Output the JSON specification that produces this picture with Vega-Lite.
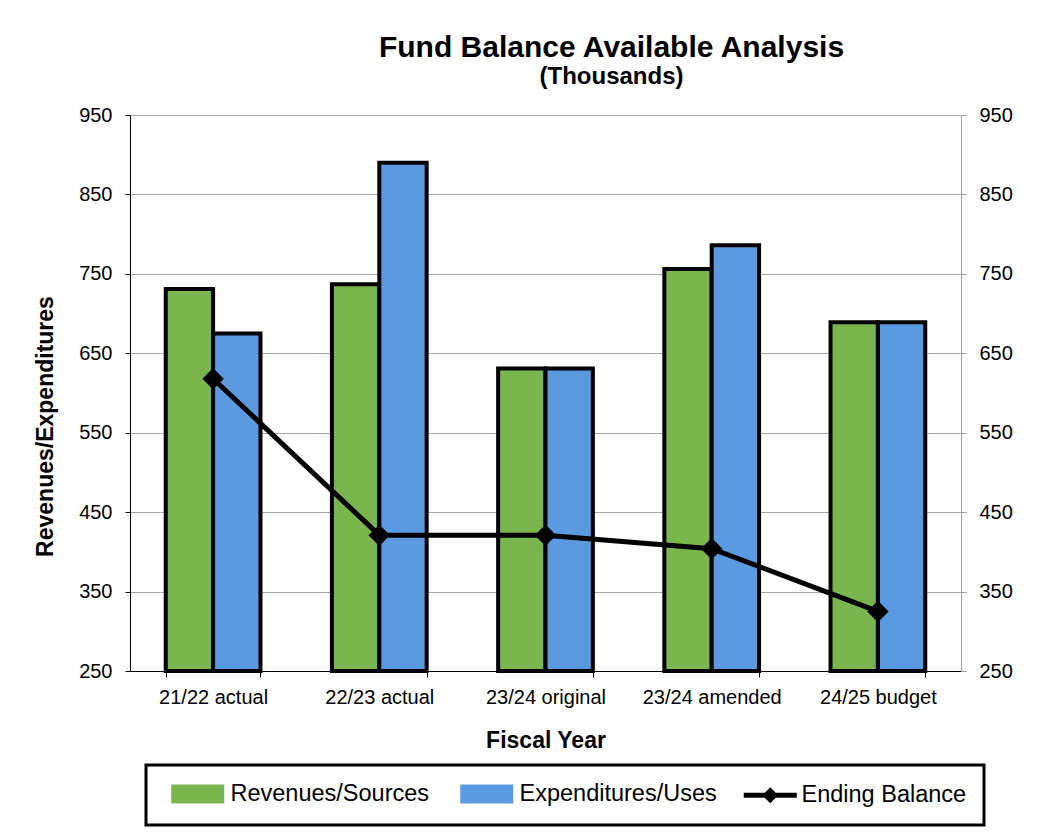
{
  "$schema": "https://vega.github.io/schema/vega-lite/v6.json",
  "width": 831,
  "height": 556,
  "autosize": "none",
  "padding": {"left": 130, "top": 115, "right": 100, "bottom": 165},
  "background": "white",
  "title": {
    "text": "Fund Balance Available Analysis",
    "subtitle": "(Thousands)",
    "anchor": "middle",
    "dx": 66,
    "offset": 16,
    "font": "Liberation Sans",
    "fontSize": 30,
    "fontWeight": "bold",
    "color": "black",
    "subtitleFont": "Liberation Sans",
    "subtitleFontSize": 24,
    "subtitleFontWeight": "bold",
    "subtitleColor": "black",
    "subtitlePadding": 2
  },
  "data": {
    "values": [
      {"year": "21/22 actual", "series": "Revenues/Sources", "value": 731},
      {"year": "21/22 actual", "series": "Expenditures/Uses", "value": 675},
      {"year": "21/22 actual", "series": "Ending Balance", "value": 618},
      {"year": "22/23 actual", "series": "Revenues/Sources", "value": 737},
      {"year": "22/23 actual", "series": "Expenditures/Uses", "value": 890},
      {"year": "22/23 actual", "series": "Ending Balance", "value": 421},
      {"year": "23/24 original", "series": "Revenues/Sources", "value": 631},
      {"year": "23/24 original", "series": "Expenditures/Uses", "value": 631},
      {"year": "23/24 original", "series": "Ending Balance", "value": 421},
      {"year": "23/24 amended", "series": "Revenues/Sources", "value": 756},
      {"year": "23/24 amended", "series": "Expenditures/Uses", "value": 786},
      {"year": "23/24 amended", "series": "Ending Balance", "value": 404},
      {"year": "24/25 budget", "series": "Revenues/Sources", "value": 689},
      {"year": "24/25 budget", "series": "Expenditures/Uses", "value": 689},
      {"year": "24/25 budget", "series": "Ending Balance", "value": 325}
    ]
  },
  "encoding": {
    "x": {
      "field": "year",
      "type": "nominal",
      "sort": null,
      "scale": {"paddingInner": 0.43, "paddingOuter": 0.215},
      "axis": {
        "title": "Fiscal Year",
        "labelAngle": 0,
        "labelFontSize": 20,
        "labelPadding": 10,
        "tickBand": "extent",
        "tickSize": 6,
        "titlePadding": 22,
        "titleFontSize": 23
      }
    }
  },
  "layer": [
    {
      "transform": [{"filter": "datum.series !== 'Ending Balance'"}],
      "mark": {"type": "bar", "stroke": "black", "strokeWidth": 4},
      "encoding": {
        "xOffset": {
          "field": "series",
          "type": "nominal",
          "sort": ["Revenues/Sources", "Expenditures/Uses"],
          "scale": {"paddingInner": 0, "paddingOuter": 0}
        },
        "y": {
          "field": "value",
          "type": "quantitative",
          "scale": {"domain": [250, 950], "nice": false, "zero": false},
          "axis": {
            "title": "Revenues/Expenditures",
            "values": [250, 350, 450, 550, 650, 750, 850, 950],
            "labelFontSize": 20,
            "labelPadding": 13,
            "tickSize": 5,
            "titleFontSize": 23,
            "titlePadding": 21,
            "titleY": 311,
            "grid": true
          }
        },
        "y2": {"datum": 250},
        "color": {
          "field": "series",
          "type": "nominal",
          "scale": {
            "domain": ["Revenues/Sources", "Expenditures/Uses", "Ending Balance"],
            "range": ["#7ab54e", "#5a9ae0", "#000000"]
          },
          "legend": {
            "title": " ",
            "titleOrient": "left",
            "titleFontSize": 8,
            "titlePadding": 8,
            "orient": "none",
            "direction": "horizontal",
            "legendX": 16,
            "legendY": 650,
            "padding": 17,
            "strokeColor": "black",
            "fillColor": "white",
            "symbolSize": 400,
            "symbolType": {"expr": "datum.value === 'Ending Balance' ? 'M-1,-0.25H4.3V0.25H-1Z M1.65,-0.8L2.45,0L1.65,0.8L0.85,0Z' : 'M-1,-0.8H4V0.8H-1Z'"},
            "symbolStrokeColor": "#1a1a1a",
            "symbolStrokeWidth": {"expr": "datum.value === 'Ending Balance' ? 0 : 3"},
            "symbolOpacity": 1,
            "labelFontSize": 23.5,
            "labelLimit": 400,
            "labelOffset": 36,
            "columnPadding": 25
          }
        }
      }
    },
    {
      "transform": [{"filter": "datum.series === 'Ending Balance'"}],
      "mark": {
        "type": "line",
        "strokeWidth": 5,
        "point": {"shape": "diamond", "size": 460, "filled": true, "color": "black", "opacity": 1}
      },
      "encoding": {
        "y": {
          "field": "value",
          "type": "quantitative",
          "scale": {"domain": [250, 950], "nice": false, "zero": false},
          "axis": {
            "orient": "right",
            "title": null,
            "values": [250, 350, 450, 550, 650, 750, 850, 950],
            "labelFontSize": 20,
            "labelPadding": 13,
            "tickSize": 5,
            "grid": false,
            "domainColor": "#a0a0a0",
            "tickColor": "#a0a0a0"
          }
        },
        "color": {"field": "series", "type": "nominal"}
      }
    }
  ],
  "resolve": {"scale": {"y": "independent"}},
  "config": {
    "font": "Liberation Sans",
    "view": {"stroke": null},
    "axis": {
      "labelFont": "Liberation Sans",
      "titleFont": "Liberation Sans",
      "labelColor": "black",
      "titleColor": "black",
      "titleFontWeight": "bold",
      "domainColor": "black",
      "tickColor": "black",
      "gridColor": "#a6a6a6",
      "gridWidth": 1
    },
    "legend": {
      "labelFont": "Liberation Sans",
      "labelColor": "black",
      "strokeWidth": 3
    }
  }
}
